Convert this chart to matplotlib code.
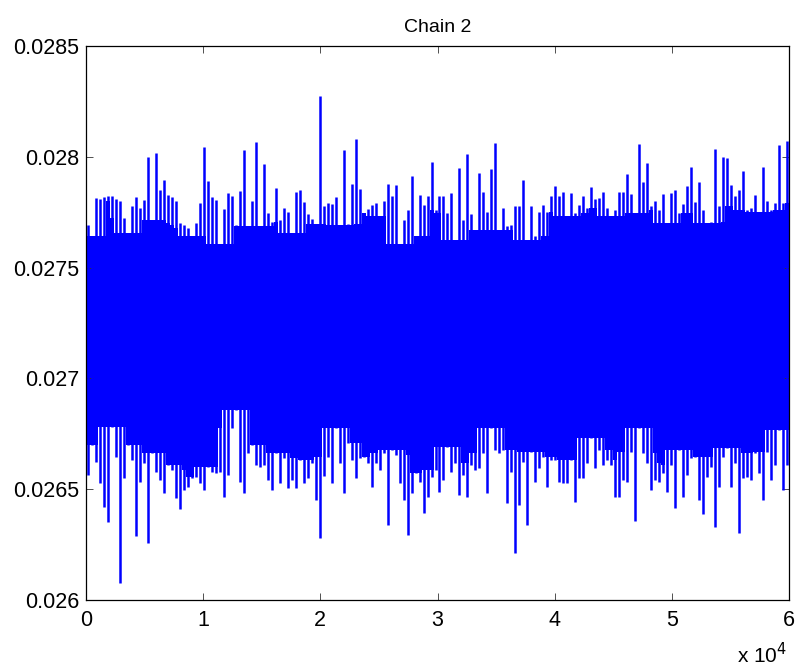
import matplotlib.pyplot as plt
import numpy as np

plt.rcParams['font.family'] = ['Liberation Sans', 'DejaVu Sans']

n_iter = 60000

upper = [
    27.690, 27.642, 27.815, 27.810, 27.819, 27.822, 27.822, 27.810, 27.800, 27.723,
    27.655, 27.776, 27.819, 27.768, 27.806, 27.998, 27.715, 28.017, 27.852, 27.897,
    27.828, 27.819, 27.800, 27.702, 27.694, 27.679, 27.642, 27.702, 27.792, 28.044,
    27.889, 27.819, 27.804, 27.605, 27.765, 27.837, 27.825, 27.694, 27.844, 28.032,
    27.687, 27.800, 28.069, 27.687, 27.968, 27.745, 27.707, 27.858, 27.715, 27.768,
    27.750, 27.655, 27.843, 27.848, 27.795, 27.740, 27.720, 27.699, 28.275, 27.777,
    27.792, 27.789, 27.819, 27.694, 28.032, 27.699, 27.878, 28.080, 27.854, 27.748,
    27.765, 27.784, 27.792, 27.732, 27.800, 27.878, 27.822, 27.874, 27.605, 27.715,
    27.762, 27.912, 27.642, 27.828, 27.784, 27.825, 27.978, 27.760, 27.824, 27.822,
    27.748, 27.836, 27.625, 27.948, 27.715, 28.013, 27.740, 27.670, 27.926, 27.843,
    27.752, 27.944, 28.064, 27.670, 27.768, 27.687, 27.694, 27.777, 27.777, 27.894,
    27.625, 27.780, 27.642, 27.752, 27.784, 27.752, 27.822, 27.867, 27.822, 27.843,
    27.732, 27.836, 27.748, 27.784, 27.822, 27.768, 27.863, 27.808, 27.813, 27.843,
    27.768, 27.732, 27.760, 27.843, 27.843, 27.923, 27.833, 27.745, 28.058, 27.888,
    27.971, 27.780, 27.800, 27.760, 27.833, 27.702, 27.836, 27.851, 27.745, 27.789,
    27.869, 27.953, 27.795, 27.888, 27.760, 27.702, 27.708, 28.035, 27.780, 27.998,
    27.994, 27.873, 27.822, 27.851, 27.938, 27.760, 27.768, 27.828, 27.753, 27.953,
    27.800, 27.760, 27.792, 28.054, 27.792, 28.072,
]
lower = [
    26.564, 26.699, 26.624, 26.526, 26.421, 26.353, 26.782, 26.647, 26.075, 26.549,
    26.699, 26.632, 26.289, 26.534, 26.617, 26.256, 26.662, 26.579, 26.541, 26.481,
    26.609, 26.586, 26.462, 26.409, 26.496, 26.511, 26.549, 26.556, 26.526, 26.496,
    26.602, 26.579, 26.571, 26.579, 26.466, 26.564, 26.775, 26.857, 26.534, 26.484,
    26.662, 26.699, 26.609, 26.602, 26.609, 26.541, 26.496, 26.662, 26.526, 26.639,
    26.504, 26.541, 26.504, 26.632, 26.526, 26.549, 26.617, 26.451, 26.278, 26.559,
    26.647, 26.526, 26.775, 26.617, 26.481, 26.707, 26.632, 26.549, 26.639, 26.647,
    26.617, 26.511, 26.617, 26.586, 26.662, 26.338, 26.677, 26.654, 26.526, 26.451,
    26.293, 26.481, 26.571, 26.534, 26.391, 26.466, 26.556, 26.587, 26.489, 26.541,
    26.692, 26.579, 26.617, 26.474, 26.564, 26.466, 26.609, 26.586, 26.594, 26.662,
    26.484, 26.775, 26.677, 26.662, 26.677, 26.436, 26.579, 26.213, 26.429, 26.624,
    26.338, 26.669, 26.534, 26.594, 26.647, 26.511, 26.632, 26.632, 26.534, 26.526,
    26.526, 26.632, 26.444, 26.549, 26.549, 26.617, 26.729, 26.594, 26.677, 26.609,
    26.632, 26.609, 26.466, 26.463, 26.541, 26.534, 26.669, 26.358, 26.775, 26.662,
    26.617, 26.496, 26.541, 26.534, 26.571, 26.489, 26.609, 26.413, 26.677, 26.466,
    26.564, 26.639, 26.647, 26.451, 26.388, 26.556, 26.602, 26.331, 26.511, 26.647,
    26.684, 26.511, 26.617, 26.304, 26.549, 26.556, 26.541, 26.662, 26.571, 26.451,
    26.669, 26.541, 26.609, 26.767, 26.496, 26.609,
]

x_ticks = [0, 10000, 20000, 30000, 40000, 50000, 60000]
x_labels = ['0', '1', '2', '3', '4', '5', '6']
y_ticks = [0.026, 0.0265, 0.027, 0.0275, 0.028, 0.0285]
y_labels = ['0.026', '0.0265', '0.027', '0.0275', '0.028', '0.0285']


def main():
    hi = np.array(upper) * 1e-3
    lo = np.array(lower) * 1e-3
    edges = np.linspace(0, n_iter, len(hi) + 1)
    mid = 0.5 * (edges[:-1] + edges[1:])

    # solid body = what all bins in a 7-bin window reach; each bin then sticks out as a column
    k = 3
    hi_pad = np.pad(hi, k, mode='edge')
    lo_pad = np.pad(lo, k, mode='edge')
    win_hi = np.lib.stride_tricks.sliding_window_view(hi_pad, 2 * k + 1)
    win_lo = np.lib.stride_tricks.sliding_window_view(lo_pad, 2 * k + 1)
    body_hi = win_hi.min(axis=1)
    body_lo = win_lo.max(axis=1)

    fig = plt.figure(figsize=(7.97, 6.71), dpi=100)
    ax = fig.add_axes([86 / 797, 71 / 671, 703 / 797, 554 / 671])

    ax.stairs(body_hi, edges, baseline=body_lo, fill=True, color='#0000ff', linewidth=0)
    ax.vlines(mid, lo, hi, color='#0000ff', linewidth=1.8)

    ax.set_xlim(0, n_iter)
    ax.set_ylim(0.026, 0.0285)
    ax.set_xticks(x_ticks)
    ax.set_xticklabels(x_labels)
    ax.set_yticks(y_ticks)
    ax.set_yticklabels(y_labels)
    ax.tick_params(direction='in', top=True, right=True, length=5.3, width=0.6,
                   labelsize=15.5, color='#333333')
    ax.tick_params(axis='x', pad=7)
    ax.tick_params(axis='y', pad=5)
    for s in ax.spines.values():
        s.set_linewidth(0.9)

    ax.set_title('Chain 2', fontsize=14, pad=10)
    fig.text(787 / 797, 1 - 663 / 671, r'x 10$^{4}$', fontsize=15,
             ha='right', va='baseline')

    fig.savefig('out.png', dpi=100)


if __name__ == "__main__":
    main()
